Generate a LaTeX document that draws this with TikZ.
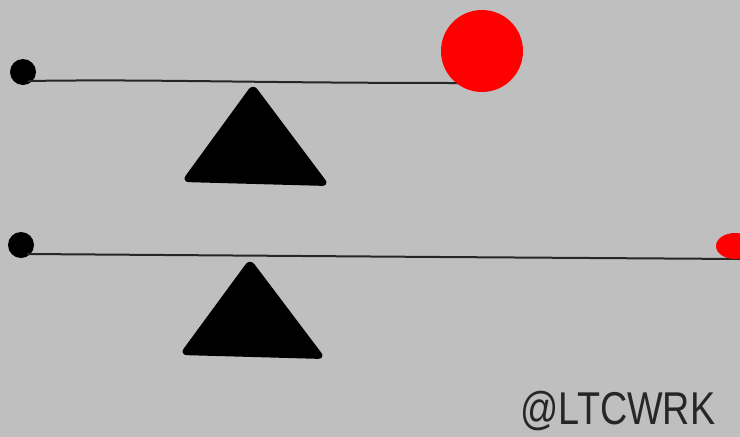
\documentclass[tikz,border=0pt]{standalone}
\usepackage{fontspec}
\setmainfont{Liberation Sans}
\begin{document}
\begin{tikzpicture}[x=1pt,y=-1pt,
  beam/.style={line width=2pt,color=black!85},
  fulcrum/.style={fill=black,draw=black,line width=2pt,rounded corners=6pt,line join=round},
  pivotdot/.style={circle,fill=black,inner sep=0pt,minimum size=26pt},
  redball/.style={circle,fill=red,inner sep=0pt}]
\fill[black!25] (0,0) rectangle (740,437);
\useasboundingbox (0,0) rectangle (740,437);
\begin{scope}
\clip (0,0) rectangle (740,437);
% top lever
\node[pivotdot] (d1) at (23,72) {};
\coordinate (b1s) at (28,81);
\coordinate (b1e) at (458,83);
\draw[beam] (b1s) .. controls (150,79) and (250,83) .. (b1e);
\filldraw[fulcrum] (253,85) -- (328,185) -- (183,181) -- cycle;
\node[redball,minimum size=82pt] (r1) at (482,51) {};
% bottom lever
\node[pivotdot] (d2) at (21,245) {};
\coordinate (b2s) at (27,254);
\coordinate (b2m) at (440,257);
\coordinate (b2e) at (740,259);
\draw[beam] (b2s) -- (b2m) -- (b2e);
\filldraw[fulcrum] (250,260) -- (324,358) -- (181,354) -- cycle;
\fill[red] (735,246) ellipse [x radius=19, y radius=13];
\end{scope}
\node[font=\fontsize{46}{46}\selectfont, xscale=0.82, text=black!85, anchor=base] (sig) at (618,424) {@LTCWRK};
\end{tikzpicture}
\end{document}
